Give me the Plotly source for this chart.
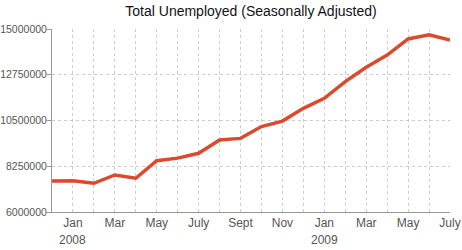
import plotly.graph_objects as go

months = ["Dec 2007", "Jan 2008", "Feb 2008", "Mar 2008", "Apr 2008", "May 2008", "Jun 2008",
          "Jul 2008", "Aug 2008", "Sep 2008", "Oct 2008", "Nov 2008", "Dec 2008", "Jan 2009",
          "Feb 2009", "Mar 2009", "Apr 2009", "May 2009", "Jun 2009", "Jul 2009"]
unemployed = [7520000, 7540000, 7410000, 7820000, 7660000, 8520000, 8650000, 8890000, 9540000,
              9620000, 10200000, 10470000, 11100000, 11590000, 12410000, 13120000, 13720000,
              14510000, 14720000, 14460000]
tick_labels = ["", "Jan", "", "Mar", "", "May", "", "July", "", "Sept", "", "Nov", "", "Jan",
               "", "Mar", "", "May", "", "July"]
year_labels = {"Jan 2008": "2008", "Jan 2009": "2009"}
y_ticks = [6000000, 8250000, 10500000, 12750000, 15000000]

idx = list(range(len(months)))

fig = go.Figure()
fig.add_trace(go.Scatter(x=idx, y=unemployed, mode="lines",
                         line=dict(color="#dc4a2e", width=3.5),
                         text=months, hoverinfo="text+y"))

for m, yr in year_labels.items():
    fig.add_annotation(x=months.index(m), y=0, xref="x", yref="paper", yshift=-28,
                       text=yr, showarrow=False, yanchor="middle",
                       font=dict(family="Liberation Sans, Arial", size=12, color="#555555"))

fig.update_layout(
    width=462, height=250,
    margin=dict(l=52, r=12, t=29, b=38),
    paper_bgcolor="white", plot_bgcolor="white",
    showlegend=False,
    title=dict(text="Total Unemployed (Seasonally Adjusted)", x=0.5, xref="paper",
               y=0.955, yanchor="middle",
               font=dict(family="Liberation Sans, Arial", size=14, color="#111111")),
    xaxis=dict(range=[0, len(months) - 1], tickmode="array", tickvals=idx, ticktext=tick_labels,
               showgrid=True, gridcolor="#cccccc", griddash="dot", gridwidth=1,
               showline=True, linecolor="#999999", linewidth=1, ticks="",
               tickfont=dict(family="Liberation Sans, Arial", size=12, color="#555555"),
               zeroline=False, fixedrange=True, automargin=False),
    yaxis=dict(range=[6000000, 15000000], tickmode="array", tickvals=y_ticks, tickformat="d",
               showgrid=True, gridcolor="#cccccc", griddash="dot", gridwidth=1,
               showline=True, linecolor="#999999", linewidth=1,
               ticks="outside", ticklen=4, tickcolor="#999999",
               ticklabelstandoff=-2,
               tickfont=dict(family="Liberation Sans, Arial", size=10.5, color="#555555"),
               zeroline=False, fixedrange=True, automargin=False),
)

fig.write_html("out.html")
